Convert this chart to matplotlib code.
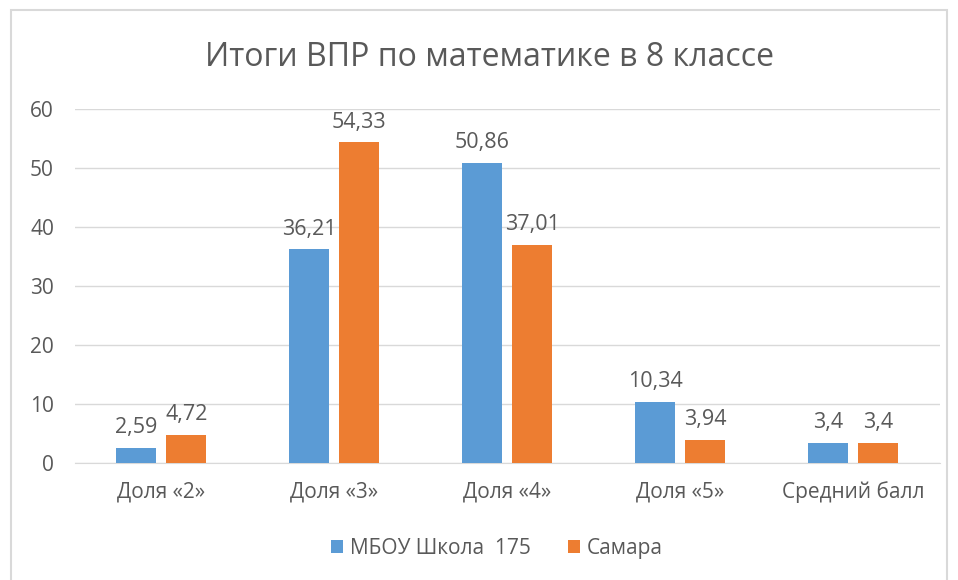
import numpy as np
import matplotlib.pyplot as plt
from matplotlib.patches import Rectangle

categories = ['Доля «2»', 'Доля «3»', 'Доля «4»', 'Доля «5»', 'Средний балл']
school = [2.59, 36.21, 50.86, 10.34, 3.4]
samara = [4.72, 54.33, 37.01, 3.94, 3.4]
series_names = ['МБОУ Школа  175', 'Самара']

text_color = '#595959'
plt.rcParams['font.family'] = ['Open Sans', 'DejaVu Sans']

fig = plt.figure(figsize=(9.58, 5.8), dpi=100)
ax = fig.add_axes([0.078, 0.2017, 0.903, 0.6103])

x = np.arange(len(categories))
w = 0.23
off = 0.145
b1 = ax.bar(x - off, school, w, color='#5B9BD5', label=series_names[0], zorder=3)
b2 = ax.bar(x + off, samara, w, color='#ED7D31', label=series_names[1], zorder=3)

for bars in (b1, b2):
    for rect in bars:
        v = rect.get_height()
        ax.annotate(f'{v:g}'.replace('.', ','), (rect.get_x() + rect.get_width() / 2, v),
                    xytext=(0, 7), textcoords='offset points', ha='center', va='bottom',
                    fontsize=15.5, color=text_color)

ax.set_xlim(-0.5, len(categories) - 0.5)
ax.set_ylim(0, 60)
ax.set_yticks(range(0, 61, 10))
ax.set_xticks(x)
ax.set_xticklabels(categories)
ax.tick_params(axis='both', length=0, labelsize=15, colors=text_color)
ax.tick_params(axis='x', pad=13)
ax.tick_params(axis='y', pad=15)
ax.grid(axis='y', color='#D9D9D9', linewidth=1, zorder=0)
for s in ['top', 'right', 'left']:
    ax.spines[s].set_visible(False)
ax.spines['bottom'].set_color('#D9D9D9')

fig.text(0.511, 0.9, 'Итоги ВПР по математике в 8 классе', ha='center', va='center',
         fontsize=23, color=text_color)

fig.legend(loc='center', bbox_to_anchor=(0.519, 0.055), ncol=2, frameon=False,
           fontsize=15, handlelength=0.55, handleheight=0.55, handletextpad=0.35,
           columnspacing=1.8, labelcolor=text_color)

fig.patches.append(Rectangle((0.011, -0.05), 0.978, 1.033, transform=fig.transFigure,
                             fill=False, edgecolor='#D9D9D9', linewidth=1.5))

fig.savefig('out.png', dpi=100)
